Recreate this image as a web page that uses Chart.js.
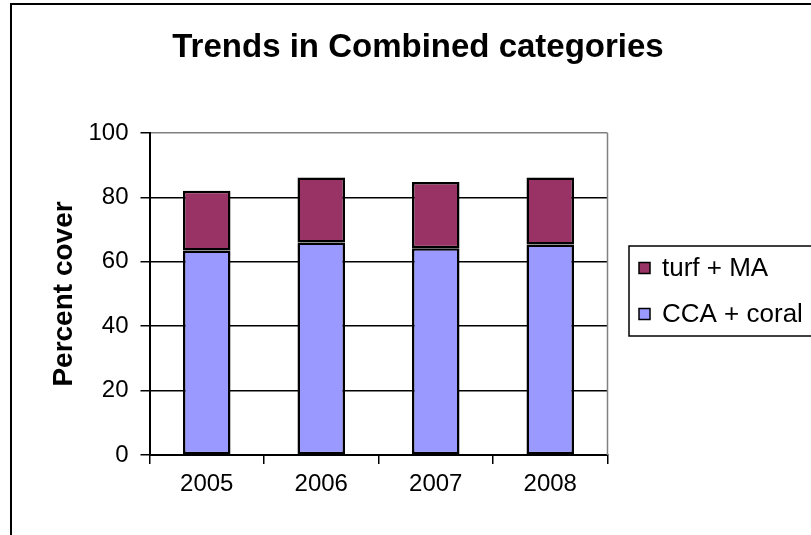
<!DOCTYPE html>
<html>
<head>
<meta charset="utf-8">
<title>Trends in Combined categories</title>
<script src="https://cdn.jsdelivr.net/npm/chart.js@4"></script>
<style>
  html, body { margin: 0; padding: 0; background: #fff; }
  #wrap { width: 811px; height: 535px; position: relative; }
</style>
</head>
<body>
<div id="wrap"><canvas id="chart"></canvas></div>
<script>
const years = ['2005', '2006', '2007', '2008'];
const ccaCoral = [63.5, 66.0, 64.2, 65.4];
const turfMA = [18.6, 20.2, 20.6, 20.8];
const yTicks = [0, 20, 40, 60, 80, 100];

const seriesNames = ['turf + MA', 'CCA + coral'];
const seriesColors = ['#993366', '#9999FF'];

const ctx = document.getElementById('chart').getContext('2d');

// frame, title, legend box - drawn like the old excel chart
const decor = {
  id: 'decor',
  beforeDraw(chart) {
    const c = chart.ctx;
    c.save();
    c.fillStyle = '#fff';
    c.fillRect(0, 0, chart.width, chart.height);
    c.restore();
  },
  afterDraw(chart) {
    const c = chart.ctx;
    const a = chart.chartArea;
    c.save();
    // plot area right edge
    c.strokeStyle = '#808080';
    c.lineWidth = 1.5;
    c.beginPath();
    c.moveTo(a.right, a.top);
    c.lineTo(a.right, a.bottom);
    c.stroke();

    // outer frame
    c.strokeStyle = '#000';
    c.lineWidth = 2;
    c.beginPath();
    c.moveTo(11, chart.height + 2);
    c.lineTo(11, 4);
    c.lineTo(chart.width + 2, 4);
    c.stroke();

    // title
    c.fillStyle = '#000';
    c.font = 'bold 33px "Liberation Sans", Arial, sans-serif';
    c.textAlign = 'center';
    c.textBaseline = 'alphabetic';
    c.fillText('Trends in Combined categories', 418, 57);

    // legend
    c.lineWidth = 1.5;
    c.strokeRect(629, 246, 200, 90);
    c.font = '26px "Liberation Sans", Arial, sans-serif';
    c.textAlign = 'left';
    c.textBaseline = 'middle';
    const rows = [268, 314];
    seriesNames.forEach((name, i) => {
      c.fillStyle = seriesColors[i];
      c.fillRect(639, rows[i] - 5.5, 11, 11);
      c.strokeStyle = '#000';
      c.strokeRect(639, rows[i] - 5.5, 11, 11);
      c.fillStyle = '#000';
      c.fillText(name, 662, rows[i] + 1);
    });
    c.restore();
  }
};

const plotBg = {
  id: 'plotBg',
  beforeDraw(chart) {
    const a = chart.chartArea;
    chart.ctx.save();
    chart.ctx.fillStyle = '#C0C0C0';
    chart.ctx.fillRect(a.left, a.top, a.right - a.left, a.bottom - a.top);
    chart.ctx.restore();
  }
};

new Chart(ctx, {
  type: 'bar',
  data: {
    labels: years,
    datasets: [
      {
        label: seriesNames[1],
        data: ccaCoral,
        backgroundColor: seriesColors[1],
        borderColor: '#000',
        borderWidth: 2.5,
        borderSkipped: false
      },
      {
        label: seriesNames[0],
        data: turfMA,
        backgroundColor: seriesColors[0],
        borderColor: '#000',
        borderWidth: 2.5,
        borderSkipped: false
      }
    ]
  },
  options: {
    responsive: true,
    maintainAspectRatio: false,
    animation: false,
    datasets: {
      bar: { barPercentage: 0.415, categoryPercentage: 1.0 }
    },
    layout: {
      padding: { left: 0, top: 133, right: 203.5, bottom: 0 }
    },
    plugins: {
      legend: { display: false },
      title: { display: false },
      tooltip: { enabled: false }
    },
    scales: {
      x: {
        stacked: true,
        afterFit(scale) { scale.height = 80; },
        grid: {
          offset: true,
          drawOnChartArea: false,
          color: '#000',
          tickLength: 9,
          lineWidth: 1.5
        },
        border: { color: '#000', width: 2 },
        ticks: {
          color: '#000',
          padding: 6,
          font: { family: '"Liberation Sans", Arial, sans-serif', size: 24 }
        }
      },
      y: {
        stacked: true,
        min: 0,
        max: 100,
        afterFit(scale) { scale.width = 149.5; },
        afterBuildTicks(scale) {
          scale.ticks = yTicks.map(v => ({ value: v }));
        },
        grid: {
          color: ctx => ctx.tick && ctx.tick.value === 100 ? '#808080' : '#000',
          tickColor: '#000',
          tickLength: 9,
          lineWidth: 1.5
        },
        border: { color: '#000', width: 2 },
        ticks: {
          color: '#000',
          padding: 12,
          font: { family: '"Liberation Sans", Arial, sans-serif', size: 24 }
        },
        title: {
          display: true,
          text: 'Percent cover',
          color: '#000',
          padding: { top: 47, bottom: 0 },
          font: { family: '"Liberation Sans", Arial, sans-serif', size: 28, weight: 'bold' }
        }
      }
    }
  },
  plugins: [plotBg, decor]
});
</script>
</body>
</html>
